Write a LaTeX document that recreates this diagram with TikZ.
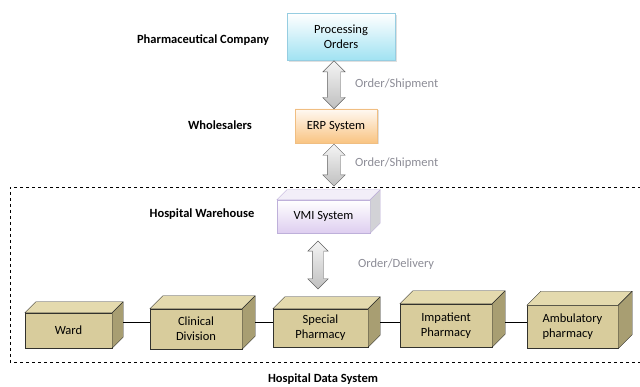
\documentclass[tikz,border=0pt]{standalone}
\usepackage{fontspec}
\setmainfont{Carlito}
\usetikzlibrary{shapes.arrows,shadows,calc}

\definecolor{labelgray}{RGB}{140,140,150}
\definecolor{cyanedge}{RGB}{150,205,225}
\definecolor{cyanlow}{RGB}{160,226,242}
\definecolor{orangeedge}{RGB}{240,190,130}
\definecolor{orangelow}{RGB}{249,196,130}
\definecolor{lavedge}{RGB}{190,176,218}
\definecolor{lavlow}{RGB}{222,206,240}
\definecolor{lavtop}{RGB}{242,238,248}
\definecolor{lavside}{RGB}{210,210,214}
\definecolor{tanfront}{RGB}{216,204,156}
\definecolor{tantop}{RGB}{228,218,174}
\definecolor{tanside}{RGB}{168,158,114}
\definecolor{tanedge}{RGB}{50,50,45}

\tikzset{
  org/.style={font=\fontsize{12.5}{15}\selectfont\bfseries, inner sep=0pt},
  flow/.style={text=labelgray, anchor=west, inner sep=0pt},
  sysbox/.style={draw, align=center, inner sep=0pt,
    drop shadow={shadow xshift=1.5pt, shadow yshift=-1.5pt, fill=black!25}},
  unit/.style={draw=tanedge, fill=tanfront, align=center, inner sep=0pt},
  unitface/.style={draw=tanedge, line join=round},
  biarrow/.style={double arrow, draw=gray!75!black, rotate=90,
    inner xsep=0pt, inner ysep=6.5pt, minimum width=0pt,
    top color=gray!8, bottom color=gray!50,
    double arrow head extend=4.5pt, double arrow tip angle=90}
}

\begin{document}
\begin{tikzpicture}[x=1pt,y=-1pt,font=\fontsize{12.5}{15}\selectfont]
  \useasboundingbox (0,0) rectangle (640,387);

  % hospital boundary
  \draw[dashed, thin] (641,187) -- (10,187) -- (10,362) -- (641,362);
  \coordinate (bound) at (0,187);

  % supply chain
  \node[sysbox, draw=cyanedge, top color=white, bottom color=cyanlow,
        minimum width=108, minimum height=47] (po) at (341,37) {Processing\\Orders};
  \node[sysbox, draw=orangeedge, top color=orange!5, bottom color=orangelow,
        minimum width=82, minimum height=34] (erp) at (336,126) {ERP System};
  \node[draw=lavedge, top color=white, bottom color=lavlow, inner sep=0pt,
        minimum width=93, minimum height=33] (vmi) at (323.5,216.5) {VMI System};
  \draw[draw=lavedge, fill=lavtop] (vmi.north west) -- ++(10,-10)
        -- ($(vmi.north east)+(10,-10)$) -- (vmi.north east) -- cycle;
  \draw[draw=lavedge, fill=lavside] (vmi.north east) -- ++(10,-10)
        -- ($(vmi.south east)+(10,-10)$) -- (vmi.south east) -- cycle;

  \node[org] (pharma) at (203,40) {Pharmaceutical Company};
  \node[org] (whole) at (220,125) {Wholesalers};
  \node[org] (wareh) at (202,214) {Hospital Warehouse};
  \node[org] (hds) at (323,379) {Hospital Data System};

  % hospital units
  \node[unit, minimum width=87, minimum height=35] (ward) at (68.5,330.5) {Ward};
  \node[unit, minimum width=92, minimum height=40] (clin) at (196,329) {Clinical\\Division};
  \node[unit, minimum width=95, minimum height=38] (spec) at (320.5,328) {Special\\Pharmacy};
  \node[unit, minimum width=92, minimum height=43] (inpat) at (446,325.5) {Impatient\\Pharmacy};
  \node[unit, minimum width=91, minimum height=43, align=left] (amb) at (572.5,327)
        {Ambulatory\\pharmacy};
  \foreach \n/\d in {ward/11,clin/13,spec/12,inpat/13,amb/14} {
    \draw[unitface, fill=tantop] (\n.north west) -- ++(\d,-\d)
          -- ($(\n.north east)+(\d,-\d)$) -- (\n.north east) -- cycle;
    \draw[unitface, fill=tanside] (\n.north east) -- ++(\d,-\d)
          -- ($(\n.south east)+(\d,-\d)$) -- (\n.south east) -- cycle;
  }
  \coordinate (link) at (0,322);
  \foreach \a/\b/\d in {ward/clin/11,clin/spec/13,spec/inpat/12,inpat/amb/13}
    \draw ($(\a.east |- link)+(\d,0)$) -- (\b.west |- link);

  % flows
  \coordinate (ax) at (334,0);
  \node[biarrow, minimum height=48] (f1) at ($(po.south -| ax)!.5!(erp.north -| ax)$) {};
  \node[biarrow, minimum height=42] (f2) at ($(erp.south -| ax)!.5!(bound -| ax)$) {};
  \node[biarrow, minimum height=48, inner ysep=5.5pt] (f3) at (318,265) {};
  \node[flow] at (355,84) {Order/Shipment};
  \node[flow] at (355,163) {Order/Shipment};
  \node[flow] at (358,264) {Order/Delivery};
\end{tikzpicture}
\end{document}
